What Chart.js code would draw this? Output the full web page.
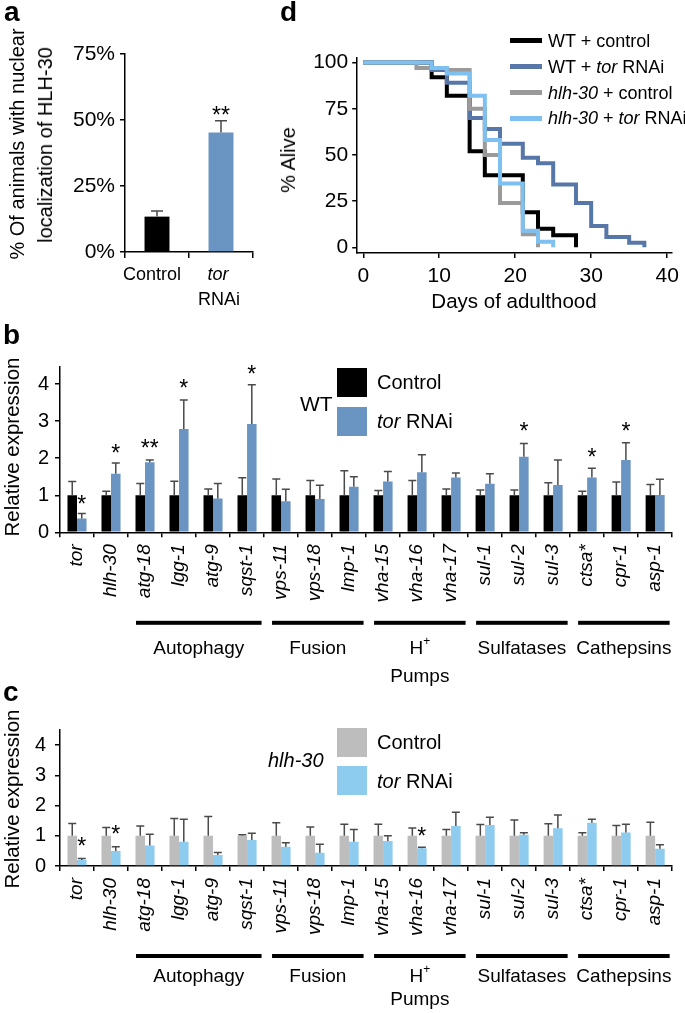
<!DOCTYPE html>
<html>
<head>
<meta charset="utf-8">
<script src="https://cdn.jsdelivr.net/npm/chart.js@4.4.1/dist/chart.umd.min.js"></script>
<style>
  body { margin: 0; background: #fff; width: 685px; height: 1013px; position: relative; overflow: hidden;
         font-family: "Liberation Sans", Arial, Helvetica, sans-serif; }
  .wrap { position: absolute; }
  .t { position: absolute; white-space: nowrap; color: #000; line-height: 1; }
  .sw { position: absolute; }
</style>
</head>
<body>
<div class="wrap" style="left:0;top:0"><canvas id="ca" width="270" height="320"></canvas></div>
<div class="wrap" style="left:280px;top:0"><canvas id="cd" width="405" height="320"></canvas></div>
<div class="wrap" style="left:0;top:330px"><canvas id="cb" width="685" height="360"></canvas></div>
<div class="wrap" style="left:0;top:690px"><canvas id="cc" width="685" height="323"></canvas></div>
<script>
const FONT = '"Liberation Sans", Arial, Helvetica, sans-serif';
Chart.defaults.font.family = FONT;
Chart.defaults.color = '#000';

// panel a
const aLabels = ['Control', 'tor RNAi'];
const aValues = [13.4, 45.3];
const aErr = [2.1, 4.4];
const aTicks = [0, 25, 50, 75];

// panel d (survival, % alive at each day)
const wtCtrlDays  = [0, 9, 11, 14, 16, 21, 23, 25, 28];
const wtCtrlAlive = [100, 92, 82, 52, 39, 19, 10, 6.5, 0];
const wtTorDays   = [0, 9, 11, 14, 16, 18, 21, 23, 25, 28, 30, 32, 35, 37];
const wtTorAlive  = [100, 96, 89, 70, 64, 56, 48.5, 45.5, 34, 24, 11.5, 5.5, 2.5, 0];
const hlhCtrlDays  = [0, 7, 11, 14, 16, 18, 21, 23];
const hlhCtrlAlive = [100, 97, 96, 75, 50, 24, 7, 0];
const hlhTorDays   = [0, 9, 11, 14, 16, 18, 21, 23, 25];
const hlhTorAlive  = [100, 97, 94, 82, 58, 34.5, 9, 3, 0];
const dTicksX = [0, 10, 20, 30, 40];
const dTicksY = [0, 25, 50, 75, 100];

// panels b and c
const genes = ['tor', 'hlh-30', 'atg-18', 'lgg-1', 'atg-9', 'sqst-1', 'vps-11', 'vps-18', 'lmp-1',
               'vha-15', 'vha-16', 'vha-17', 'sul-1', 'sul-2', 'sul-3', 'ctsa*', 'cpr-1', 'asp-1'];
const exprTicks = [0, 1, 2, 3, 4];

const wtControl    = [1, 1, 1, 1, 1, 1, 1, 1, 1, 1, 1, 1, 1, 1, 1, 1, 1, 1];
const wtControlErr = [0.37, 0.11, 0.32, 0.38, 0.17, 0.47, 0.44, 0.40, 0.66, 0.13, 0.40, 0.17, 0.14, 0.14, 0.34, 0.11, 0.36, 0.29];
const wtTor        = [0.37, 1.58, 1.89, 2.79, 0.91, 2.92, 0.84, 0.90, 1.23, 1.37, 1.62, 1.48, 1.31, 2.04, 1.28, 1.48, 1.95, 1.01];
const wtTorErr     = [0.14, 0.29, 0.06, 0.78, 0.41, 1.06, 0.32, 0.37, 0.27, 0.27, 0.47, 0.12, 0.27, 0.36, 0.67, 0.25, 0.47, 0.42];
// [gene index, mark, height]
const wtStars = [[0, '*', 0.9], [1, '*', 2.3], [2, '**', 2.42], [3, '*', 4.05], [5, '*', 4.43],
                 [13, '*', 2.87], [15, '*', 2.18], [16, '*', 2.87]];

const hlhControl    = [1, 1, 1, 1, 1, 1, 1, 1, 1, 1, 1, 1, 1, 1, 1, 1, 1, 1];
const hlhControlErr = [0.41, 0.27, 0.32, 0.57, 0.64, 0.03, 0.43, 0.29, 0.38, 0.38, 0.26, 0.21, 0.37, 0.52, 0.40, 0.10, 0.34, 0.45];
const hlhTor        = [0.20, 0.50, 0.68, 0.80, 0.36, 0.86, 0.64, 0.44, 0.80, 0.83, 0.59, 1.32, 1.36, 1.03, 1.25, 1.43, 1.11, 0.57];
const hlhTorErr     = [0.05, 0.14, 0.37, 0.75, 0.09, 0.22, 0.13, 0.28, 0.41, 0.17, 0.03, 0.46, 0.25, 0.07, 0.44, 0.12, 0.27, 0.13];
const hlhStars = [[0, '*', 0.84], [1, '*', 1.25], [10, '*', 1.17]];

const groupNames = ['Autophagy', 'Fusion', 'H', 'Sulfatases', 'Cathepsins'];
const groupSup   = ['', '', '+', '', ''];
const groupLine2 = ['', '', 'Pumps', '', ''];
const groupFrom  = [2, 6, 9, 12, 15];
const groupTo    = [5, 8, 11, 14, 17];

// ---------- plugins ----------
const errorBars = {
  id: 'errorBars',
  afterDatasetsDraw(chart) {
    const ctx = chart.ctx, y = chart.scales.y;
    chart.data.datasets.forEach((ds, di) => {
      if (!ds.err) return;
      chart.getDatasetMeta(di).data.forEach((bar, i) => {
        const top = y.getPixelForValue(ds.data[i] + ds.err[i]);
        ctx.save();
        ctx.strokeStyle = '#4a4a4a';
        ctx.lineWidth = 1.5;
        ctx.beginPath();
        ctx.moveTo(bar.x, bar.y);
        ctx.lineTo(bar.x, top);
        ctx.moveTo(bar.x - ds.cap, top);
        ctx.lineTo(bar.x + ds.cap, top);
        ctx.stroke();
        ctx.restore();
      });
    });
  }
};

function starPlugin(items, di) {
  return {
    id: 'stars',
    afterDatasetsDraw(chart) {
      const ctx = chart.ctx, y = chart.scales.y, meta = chart.getDatasetMeta(di);
      ctx.save();
      ctx.fillStyle = '#000';
      ctx.font = '23px ' + FONT;
      ctx.textAlign = 'center';
      ctx.textBaseline = 'alphabetic';
      items.forEach(([i, s, v]) => ctx.fillText(s, meta.data[i].x, y.getPixelForValue(v) + 13.5));
      ctx.restore();
    }
  };
}

function groupPlugin(off) {
  return {
    id: 'groups',
    afterDraw(chart) {
      const ctx = chart.ctx, x = chart.scales.x;
      const half = (x.getPixelForValue(1) - x.getPixelForValue(0)) / 2;
      ctx.save();
      ctx.fillStyle = '#000';
      ctx.textBaseline = 'middle';
      groupNames.forEach((name, g) => {
        const x0 = x.getPixelForValue(groupFrom[g]) - half + 8;
        const x1 = x.getPixelForValue(groupTo[g]) + half - 2.5;
        ctx.fillRect(x0, x.top + off.line - 2, x1 - x0, 4);
        const cx = (x0 + x1) / 2, ly = x.top + off.label;
        ctx.font = '19px ' + FONT;
        const w1 = ctx.measureText(name).width;
        ctx.font = '12px ' + FONT;
        const w2 = groupSup[g] ? ctx.measureText(groupSup[g]).width : 0;
        ctx.textAlign = 'left';
        ctx.font = '19px ' + FONT;
        ctx.fillText(name, cx - (w1 + w2) / 2, ly);
        if (groupSup[g]) {
          ctx.font = '12px ' + FONT;
          ctx.fillText(groupSup[g], cx - (w1 + w2) / 2 + w1, ly - 7);
        }
        if (groupLine2[g]) {
          ctx.font = '19px ' + FONT;
          ctx.textAlign = 'center';
          ctx.fillText(groupLine2[g], cx, x.top + off.line2);
        }
      });
      ctx.restore();
    }
  };
}

const aTickText = {
  id: 'aTickText',
  afterDraw(chart) {
    const ctx = chart.ctx, x = chart.scales.x;
    ctx.save();
    ctx.fillStyle = '#000';
    ctx.textAlign = 'center';
    ctx.textBaseline = 'middle';
    const words = aLabels[1].split(' ');
    ctx.font = '18px ' + FONT;
    ctx.fillText(aLabels[0], x.getPixelForValue(0) - 5, x.top + 23);
    ctx.font = 'italic 18px ' + FONT;
    ctx.fillText(words[0], x.getPixelForValue(1) - 3, x.top + 23);
    ctx.font = '18px ' + FONT;
    ctx.fillText(words[1], x.getPixelForValue(1) - 2, x.top + 48);
    ctx.restore();
  }
};

const axisGrid = (len) => ({ display: true, drawOnChartArea: false, color: '#000', tickLength: len, lineWidth: 1.5 });
const axisBorder = { color: '#000', width: 1.5 };

// ---------- panel a ----------
new Chart(document.getElementById('ca'), {
  type: 'bar',
  data: {
    labels: aLabels,
    datasets: [{ data: aValues, err: aErr, cap: 6, backgroundColor: ['#000000', '#6a94c1'],
                 categoryPercentage: 0.39, barPercentage: 1 }]
  },
  options: {
    responsive: false, animation: false, events: [], devicePixelRatio: 1,
    layout: { padding: { left: 0, right: 17, top: 54, bottom: 0 } },
    plugins: { legend: { display: false }, tooltip: { enabled: false } },
    scales: {
      x: { grid: axisGrid(6), border: axisBorder, ticks: { display: false },
           afterFit: s => { s.height = 68; } },
      y: { min: 0, max: 75, grid: axisGrid(5), border: axisBorder,
           afterBuildTicks: s => { s.ticks = aTicks.map(v => ({ value: v })); },
           ticks: { callback: v => v + '%', font: { size: 21 }, color: '#000', padding: 5 },
           afterFit: s => { s.width = 125; } }
    }
  },
  plugins: [errorBars, aTickText, starPlugin([[1, '**', 53.8]], 0)]
});

// ---------- panel d ----------
const toPts = (xs, ys) => xs.map((d, i) => ({ x: d, y: ys[i] }));
const stepDs = (label, pts, color, order) => ({
  label, data: pts, borderColor: color, backgroundColor: color, borderWidth: 4,
  stepped: true, pointRadius: 0, fill: false, order, borderJoinStyle: 'miter'
});
new Chart(document.getElementById('cd'), {
  type: 'line',
  data: {
    datasets: [
      stepDs('WT + control', toPts(wtCtrlDays, wtCtrlAlive), '#000000', 3),
      stepDs('WT + tor RNAi', toPts(wtTorDays, wtTorAlive), '#5877a9', 2),
      stepDs('hlh-30 + control', toPts(hlhCtrlDays, hlhCtrlAlive), '#9a9a9a', 1),
      stepDs('hlh-30 + tor RNAi', toPts(hlhTorDays, hlhTorAlive), '#7ec0f0', 0)
    ]
  },
  options: {
    responsive: false, animation: false, events: [], devicePixelRatio: 1,
    layout: { padding: { left: 0, right: 12.1, top: 57.9, bottom: 0 } },
    plugins: { legend: { display: false }, tooltip: { enabled: false } },
    scales: {
      x: { type: 'linear', min: -0.8, max: 40.6, grid: axisGrid(5), border: axisBorder,
           afterBuildTicks: s => { s.ticks = dTicksX.map(v => ({ value: v })); },
           ticks: { font: { size: 21 }, color: '#000', padding: 6 },
           afterFit: s => { s.height = 67; } },
      y: { min: -3.1, max: 102.5, grid: axisGrid(5), border: axisBorder,
           afterBuildTicks: s => { s.ticks = dTicksY.map(v => ({ value: v })); },
           ticks: { font: { size: 21 }, color: '#000', padding: 4 },
           afterFit: s => { s.width = 77.2; } }
    }
  }
});

// ---------- panels b, c ----------
function exprChart(id, ctrl, ctrlErr, tor, torErr, colors, stars, box) {
  new Chart(document.getElementById(id), {
    type: 'bar',
    data: {
      labels: genes,
      datasets: [
        { data: ctrl, err: ctrlErr, cap: 4, backgroundColor: colors[0], categoryPercentage: 0.56, barPercentage: 1 },
        { data: tor, err: torErr, cap: 4, backgroundColor: colors[1], categoryPercentage: 0.56, barPercentage: 1 }
      ]
    },
    options: {
      responsive: false, animation: false, events: [], devicePixelRatio: 1,
      layout: { padding: { left: 0, right: 2, top: box.top, bottom: 0 } },
      plugins: { legend: { display: false }, tooltip: { enabled: false } },
      scales: {
        x: { grid: axisGrid(5), border: axisBorder,
             ticks: { autoSkip: false, minRotation: 90, maxRotation: 90, padding: 7,
                      font: { size: 19, style: 'italic' }, color: '#000' },
             afterFit: s => { s.height = box.xh; } },
        y: { min: 0, max: box.max, grid: axisGrid(5), border: axisBorder,
             afterBuildTicks: s => { s.ticks = exprTicks.map(v => ({ value: v })); },
             ticks: { font: { size: 20 }, color: '#000', padding: box.ypad },
             afterFit: s => { s.width = 60; } }
      }
    },
    plugins: [errorBars, starPlugin(stars, 1), groupPlugin(box.groups)]
  });
}
exprChart('cb', wtControl, wtControlErr, wtTor, wtTorErr, ['#000000', '#6a94c1'], wtStars,
  { top: 36.7, xh: 157.7, max: 4.47, ypad: 6, groups: { line: 90.5, label: 116, line2: 144 } });
exprChart('cc', hlhControl, hlhControlErr, hlhTor, hlhTorErr, ['#bdbdbd', '#8dcbef'], hlhStars,
  { top: 40, xh: 147, max: 4.5, ypad: 9, groups: { line: 90, label: 111, line2: 134 } });

// ---------- text and legends ----------
function txt(html, x, y, size, o = {}) {
  const d = document.createElement('div');
  d.className = 't';
  d.innerHTML = html;
  d.style.fontSize = size + 'px';
  d.style.left = x + 'px';
  d.style.top = y + 'px';
  if (o.bold) d.style.fontWeight = 'bold';
  let tf = o.center ? 'translate(-50%,-50%)' : 'translate(0,-50%)';
  if (o.rot) tf = 'translate(-50%,-50%) rotate(-90deg)';
  d.style.transform = tf;
  document.body.appendChild(d);
}
function swatch(x, y, w, h, color) {
  const d = document.createElement('div');
  d.className = 'sw';
  Object.assign(d.style, { left: x + 'px', top: y + 'px', width: w + 'px', height: h + 'px', background: color });
  document.body.appendChild(d);
}

txt('a', 4, 12.3, 28, { bold: true });
txt('d', 280, 12.3, 28, { bold: true });
txt('b', 3, 335.3, 28, { bold: true });
txt('c', 3, 692.3, 28, { bold: true });

txt('% Of animals with nuclear', 17, 144, 20, { rot: true });
txt('localization of HLH-30', 45, 145, 20, { rot: true });

txt('% Alive', 288, 160, 20, { rot: true });
txt('Days of adulthood', 514, 300.5, 20.5, { center: true });
const dLegend = [['WT + control', '#000000'], ['WT + <i>tor</i> RNAi', '#5877a9'],
                 ['<i>hlh-30</i> + control', '#9a9a9a'], ['<i>hlh-30</i> + <i>tor</i> RNAi', '#7ec0f0']];
dLegend.forEach(([label, color], i) => {
  const y = 40.7 + i * 25.9;
  swatch(510, y - 2.5, 32, 5, color);
  txt(label, 548, y, 18);
});

txt('Relative expression', 12, 447, 20.5, { rot: true });
txt('WT', 300, 403, 21);
swatch(337, 368, 30, 29, '#000000');
swatch(337, 407, 30, 29, '#6a94c1');
txt('Control', 377, 382, 20);
txt('<i>tor</i> RNAi', 377, 421, 20);

txt('Relative expression', 12, 798.5, 20.5, { rot: true });
txt('<i>hlh-30</i>', 268, 760, 20);
swatch(337, 728, 30, 29, '#bdbdbd');
swatch(337, 766, 30, 29, '#8dcbef');
txt('Control', 377, 742, 20);
txt('<i>tor</i> RNAi', 377, 781, 20);
</script>
</body>
</html>
